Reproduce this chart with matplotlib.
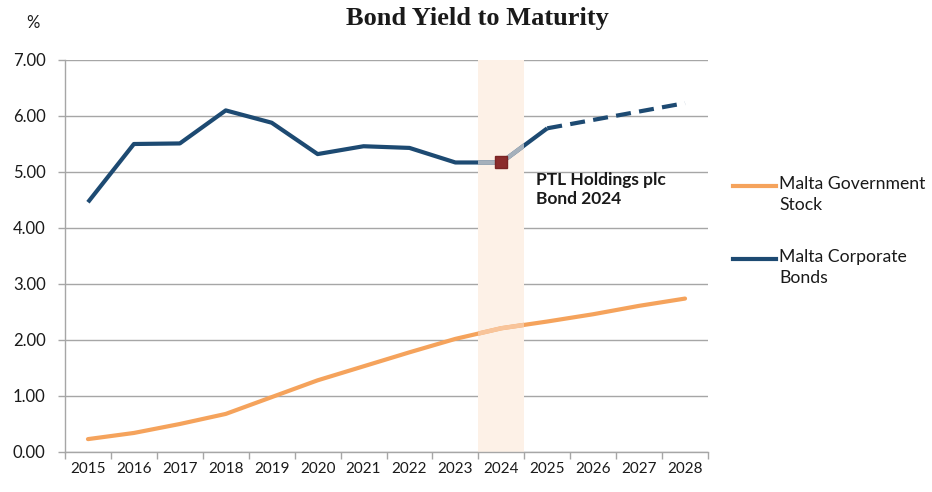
import matplotlib
matplotlib.use("Agg")
import matplotlib.pyplot as plt
from matplotlib.lines import Line2D
import numpy as np

years = ["2015", "2016", "2017", "2018", "2019", "2020", "2021",
         "2022", "2023", "2024", "2025", "2026", "2027", "2028"]
gov_stock = [0.23, 0.34, 0.50, 0.68, 0.98, 1.28, 1.53, 1.78, 2.02, 2.21, 2.33, 2.46, 2.61, 2.74]
corp_bonds = [4.46, 5.50, 5.51, 6.10, 5.88, 5.32, 5.46, 5.43, 5.17, 5.17, 5.78, 5.93, 6.08, 6.23]
proj_start = "2025"
highlight_year = "2024"

BLUE = "#1d4a72"
BLUE_LIGHT = "#a5b0bb"
ORANGE = "#f5a35c"
ORANGE_LIGHT = "#f8c49a"
PEACH = "#fdf1e7"
GRID = "#a6a6a6"
TXT = "#1a1a1a"

plt.rcParams["font.family"] = ["Lato", "DejaVu Sans"]

fig = plt.figure(figsize=(9.32, 4.92), dpi=100)
ax = fig.add_axes([65 / 932, 1 - 452 / 492, (708 - 65) / 932, (452 - 60) / 492])

x = np.arange(len(years))
ps = years.index(proj_start)
hi = years.index(highlight_year)

ax.set_xlim(-0.5, len(years) - 0.5)
ax.set_ylim(0, 7)

# highlight band
band = ax.axvspan(hi - 0.5, hi + 0.5, color=PEACH, zorder=1, lw=0)

# government stock
ax.plot(x, gov_stock, color=ORANGE, lw=3.0, zorder=2, solid_capstyle="round")
gl, = ax.plot(x, gov_stock, color=ORANGE_LIGHT, lw=3.2, zorder=2.1)
gl.set_clip_path(band)

# corporate bonds
ax.plot(x[:ps + 1], corp_bonds[:ps + 1], color=BLUE, lw=3.0, zorder=2,
        solid_joinstyle="round", solid_capstyle="butt")
ax.plot(x[ps:], corp_bonds[ps:], color=BLUE, lw=3.0, zorder=2,
        linestyle=(0, (3.6, 2.0)))
bl, = ax.plot(x[:ps + 1], corp_bonds[:ps + 1], color=BLUE_LIGHT, lw=3.2, zorder=2.1)
bl.set_clip_path(band)

ax.plot([x[hi]], [corp_bonds[hi]], marker="s", markersize=8.5, color="#8b2c2c",
        markeredgecolor="#7a2424", zorder=3)

ax.text(hi + 0.76, corp_bonds[hi] - 0.17, "PTL Holdings plc\nBond 2024",
        fontsize=12.5, fontweight="bold", color=TXT, va="top", ha="left",
        linespacing=1.25)

# grid & axes
ax.set_yticks(np.arange(0, 8, 1))
ax.set_yticklabels([f"{v:.2f}" for v in np.arange(0, 8, 1)], fontsize=12, color=TXT)
ax.yaxis.grid(True, color=GRID, lw=1.0, zorder=0.5)
ax.set_axisbelow(True)

ax.set_xticks(np.arange(-0.5, len(years), 1))
ax.set_xticklabels([])
ax.set_xticks(x, minor=True)
ax.set_xticklabels(years, minor=True, fontsize=11, color=TXT)
ax.tick_params(axis="x", which="major", length=5, color=GRID, width=1)
ax.tick_params(axis="x", which="minor", length=0, pad=7)
ax.tick_params(axis="y", length=5, color=GRID, width=1, pad=9)

for s in ["top", "right"]:
    ax.spines[s].set_visible(False)
for s in ["left", "bottom"]:
    ax.spines[s].set_color(GRID)
    ax.spines[s].set_linewidth(1.0)

# title and unit label
fig.text(477 / 932, 1 - 19 / 492, "Bond Yield to Maturity", ha="center", va="center",
         fontsize=19, fontweight="bold", family=["Liberation Serif", "DejaVu Serif"],
         color=TXT)
fig.text(33 / 932, 1 - 23 / 492, "%", ha="center", va="center", fontsize=12, color=TXT)

# legend (manual)
def leg(y1, color, label):
    fig.add_artist(Line2D([733 / 932, 776 / 932], [1 - y1 / 492] * 2, color=color, lw=3.0,
                          transform=fig.transFigure))
    fig.text(779 / 932, 1 - y1 / 492, label, ha="left", va="top", fontsize=12.7,
             color=TXT, linespacing=1.35,
             transform=fig.transFigure + matplotlib.transforms.ScaledTranslation(0, 10 / 100, fig.dpi_scale_trans))

leg(186, ORANGE, "Malta Government\nStock")
leg(259, BLUE, "Malta Corporate\nBonds")

fig.savefig("out.png", dpi=100, facecolor="white")
